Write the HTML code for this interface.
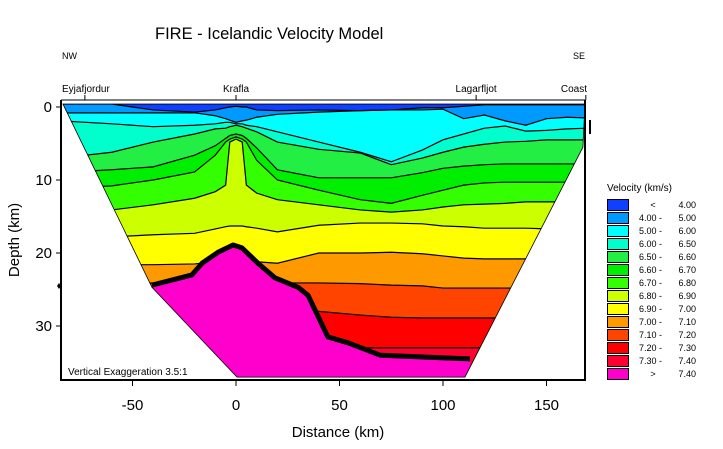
<!DOCTYPE html>
<html><head><meta charset="utf-8"><style>
html,body{margin:0;padding:0;background:#fff;width:723px;height:449px;overflow:hidden}
text{font-family:"Liberation Sans",Arial,sans-serif}
</style></head><body>
<svg id="chart" width="723" height="449" viewBox="0 0 723 449" xmlns="http://www.w3.org/2000/svg">
<defs><clipPath id="modelClip"><polygon id="clipPoly"/></clipPath></defs>
<text x="155" y="39" font-size="16.5">FIRE - Icelandic Velocity Model</text>
<text x="62" y="59" font-size="9">NW</text>
<text x="573" y="59" font-size="9">SE</text>
<g id="bands" clip-path="url(#modelClip)"></g>
<g id="frame"></g>
<g id="legend"></g>
<text x="68" y="375" font-size="10">Vertical Exaggeration 3.5:1</text>
<text transform="translate(19,240) rotate(-90)" text-anchor="middle" font-size="15">Depth (km)</text>
<text x="338" y="437" text-anchor="middle" font-size="15">Distance (km)</text>
</svg>
<script>
const xs=[-85,-60,-40,-20,-10,-5,-3,0,3,5,10,20,40,60,75,90,100,110,120,130,140,150,160,170];
const b0=xs.map(()=>-0.4);
const b1=[-0.4,-0.4,0.4,0.7,0.4,0.1,0,-0.1,0,0,0.4,0.5,0.4,0.5,0.4,0.1,0.1,-0.1,-0.3,-0.3,-0.3,-0.3,-0.3,-0.3];
const b2=[0.8,0.8,0.8,0.8,1.2,1.6,1.8,2.1,1.9,1.8,1.4,1.0,0.7,0.5,0.4,0.4,0.3,1.6,1.1,1.9,2.5,1.6,1.4,1.5];
const b3=[1.9,2.3,2.7,2.5,2.3,2.1,2.1,2.3,2.3,2.5,2.7,3.4,4.8,6.2,7.5,5.9,4.5,3.7,2.9,2.6,3.3,3.2,3.0,2.9];
const b4=[7.0,6.2,4.8,3.7,3.0,2.9,2.7,2.5,2.7,2.9,3.4,4.8,5.8,6.3,7.9,7.0,6.2,5.5,5.1,4.8,4.7,4.5,4.5,4.5];
const b5=[9.0,8.6,8.2,6.6,5.3,4.3,3.9,3.7,3.9,4.3,5.6,8.6,9.7,9.7,9.7,9.0,8.4,8.1,7.9,7.8,7.8,7.8,7.8,7.8];
const b6=[11.2,10.8,10.0,8.9,6.6,4.8,4.4,4.1,4.4,4.8,7.3,10.0,11.4,12.7,13.2,12.1,11.4,10.7,10.4,10.3,10.3,10.3,10.3,10.3];
const b7=[14.2,14.1,13.4,12.5,11.6,10.7,4.8,4.4,4.8,10.7,11.8,12.7,13.4,14.1,14.4,14.1,13.7,13.4,13.3,13.2,13.0,13.0,13.0,13.0];
const b8=[17.9,17.8,17.5,17.3,16.7,16.4,16.3,16.3,16.3,16.4,16.6,17.1,16.2,15.9,15.9,16.0,16.3,16.4,16.6,16.6,16.6,16.7,16.7,16.7];
const b9=[21.6,21.6,21.6,21.5,21.2,21.1,21.0,21.0,21.0,21.1,21.2,21.4,20.0,20.0,19.9,20.1,20.4,20.7,20.8,20.8,20.8,20.7,20.7,20.7];
const b10=[24.1,24.1,24.1,24.1,24.1,24.1,24.1,24.1,24.1,24.1,24.1,24.1,24.1,24.2,24.4,24.5,24.8,24.8,24.8,24.8,24.8,24.8,24.8,24.8];
const b11=[27.8,27.8,27.8,27.8,27.8,27.8,27.8,27.8,27.8,27.8,27.8,27.8,28.0,28.5,28.8,28.9,28.9,28.9,28.9,28.9,28.9,28.9,28.9,28.9];
const b12=xs.map(()=>33.0);
const b13=xs.map(()=>40);
const mohoX=[-40.6,-21.3,-16.4,-8.7,-1.4,2.9,10.6,18.8,30.0,34.8,44.4,54.1,69.6,103.4,113];
const mohoZ=[24.4,23.0,21.4,19.9,18.9,19.3,21.4,23.4,24.7,25.8,31.5,32.3,34.0,34.4,34.5];
const outlineX=[-83.6,-40.6,0.5,110.6,167.6,168.6];
const outlineZ=[-0.4,24.7,37,37,5.5,-0.4];
const bandColors=["#1040ff","#0099ff","#00ffff","#00ffcc","#22ee44","#00ee00","#33ff00","#ccff00","#ffff00","#ff9900","#ff4400","#ff0000","#ff0033"];
const mantleColor="#ff00cc";
const legendLo=["<","4.00 -","5.00 -","6.00 -","6.50 -","6.60 -","6.70 -","6.80 -","6.90 -","7.00 -","7.10 -","7.20 -","7.30 -",">"];
const legendHi=["4.00","5.00","6.00","6.50","6.60","6.70","6.80","6.90","7.00","7.10","7.20","7.30","7.40","7.40"];
const xTicks=[-50,0,50,100,150];
const yTicks=[0,10,20,30];
const places=["Eyjafjordur","Krafla","Lagarfljot","Coast"];
const placeKm=[-73,0,116,169];

const X=d=>236+2.07*d, Y=z=>107+7.3*z;
const NS="http://www.w3.org/2000/svg";
function mk(tag,attrs,parent){const e=document.createElementNS(NS,tag);for(const k in attrs)e.setAttribute(k,attrs[k]);parent.appendChild(e);return e;}
document.getElementById('clipPoly').setAttribute('points',outlineX.map((d,i)=>X(d)+','+Y(outlineZ[i])).join(' '));
const bands=document.getElementById('bands');
const B=[b0,b1,b2,b3,b4,b5,b6,b7,b8,b9,b10,b11,b12,b13];
for(let i=0;i<13;i++){
  const top=xs.map((d,j)=>X(d)+','+Y(B[i][j]));
  const bot=xs.map((d,j)=>X(d)+','+Y(B[i+1][j])).reverse();
  const p=mk('polygon',{points:top.concat(bot).join(' '),fill:bandColors[i]},bands);
  
  
}
for(let i=1;i<13;i++){
  const l=mk('polyline',{points:xs.map((d,j)=>X(d)+','+Y(B[i][j])).join(' '),fill:'none',stroke:'#000','stroke-width':1.2},bands);
  
  
}
const mp=mohoX.map((d,i)=>X(d)+','+Y(mohoZ[i]));
const mantle=mk('polygon',{points:mp.concat([X(113)+','+Y(45),X(-40.6)+','+Y(45)]).join(' '),fill:mantleColor},bands);


const moho=mk('polyline',{points:mp.join(' '),fill:'none',stroke:'#000','stroke-width':5,'stroke-linejoin':'round'},bands);


const ol=mk('polygon',{points:outlineX.map((d,i)=>X(d)+','+Y(outlineZ[i])).join(' '),fill:'none',stroke:'#000','stroke-width':0.8},document.getElementById('frame'));



const fr=document.getElementById('frame');
mk('line',{x1:61,y1:100,x2:585,y2:100,stroke:'#000','stroke-width':1},fr);
const ax1=mk('line',{x1:61,y1:100,x2:61,y2:381,stroke:'#000','stroke-width':2},fr);


const ax2=mk('line',{x1:60,y1:380,x2:586,y2:380,stroke:'#000','stroke-width':2},fr);


mk('line',{x1:585,y1:100,x2:585,y2:381,stroke:'#000','stroke-width':2},fr);
xTicks.forEach(v=>{
  mk('line',{x1:X(v),y1:380,x2:X(v),y2:386,stroke:'#000'},fr);
  const t=mk('text',{x:X(v),y:410,'text-anchor':'middle','font-size':15},fr);t.textContent=v;
  
  
});
yTicks.forEach(v=>{
  mk('line',{x1:56,y1:Y(v),x2:61,y2:Y(v),stroke:'#000'},fr);
  const t=mk('text',{x:52,y:Y(v)+5,'text-anchor':'end','font-size':15},fr);t.textContent=v;
  
  
});
places.forEach((p,i)=>{
  const x=X(placeKm[i]);
  mk('line',{x1:x,y1:95,x2:x,y2:100,stroke:'#000'},fr);
  const t=mk('text',{x:i==0?62:(i==3?587:x),y:92,'text-anchor':i==0?'start':(i==3?'end':'middle'),'font-size':10},fr);t.textContent=p;
  
  
});
mk('polygon',{points:'57,286 59,283 61,286 59,289',fill:'#000'},fr);
mk('rect',{x:589,y:120,width:2,height:14,fill:'#000'},fr);

const lg=document.getElementById('legend');
const lt=mk('text',{x:607,y:191,'font-size':10},lg);lt.textContent='Velocity (km/s)';


const allC=bandColors.concat([mantleColor]);
legendLo.forEach((lo,i)=>{
  const y=199+13*i;
  const r=mk('rect',{x:607.5,y:y+0.5,width:21,height:11,fill:allC[i],stroke:'#000','stroke-width':1},lg);
  
  
  const a=mk('text',{x:(lo.length<2?653:662),y:y+9,'text-anchor':(lo.length<2?'middle':'end'),'font-size':9},lg);a.textContent=lo;
  
  
  const b=mk('text',{x:696,y:y+9,'text-anchor':'end','font-size':9},lg);b.textContent=legendHi[i];
  
  
});
</script>
</body></html>
